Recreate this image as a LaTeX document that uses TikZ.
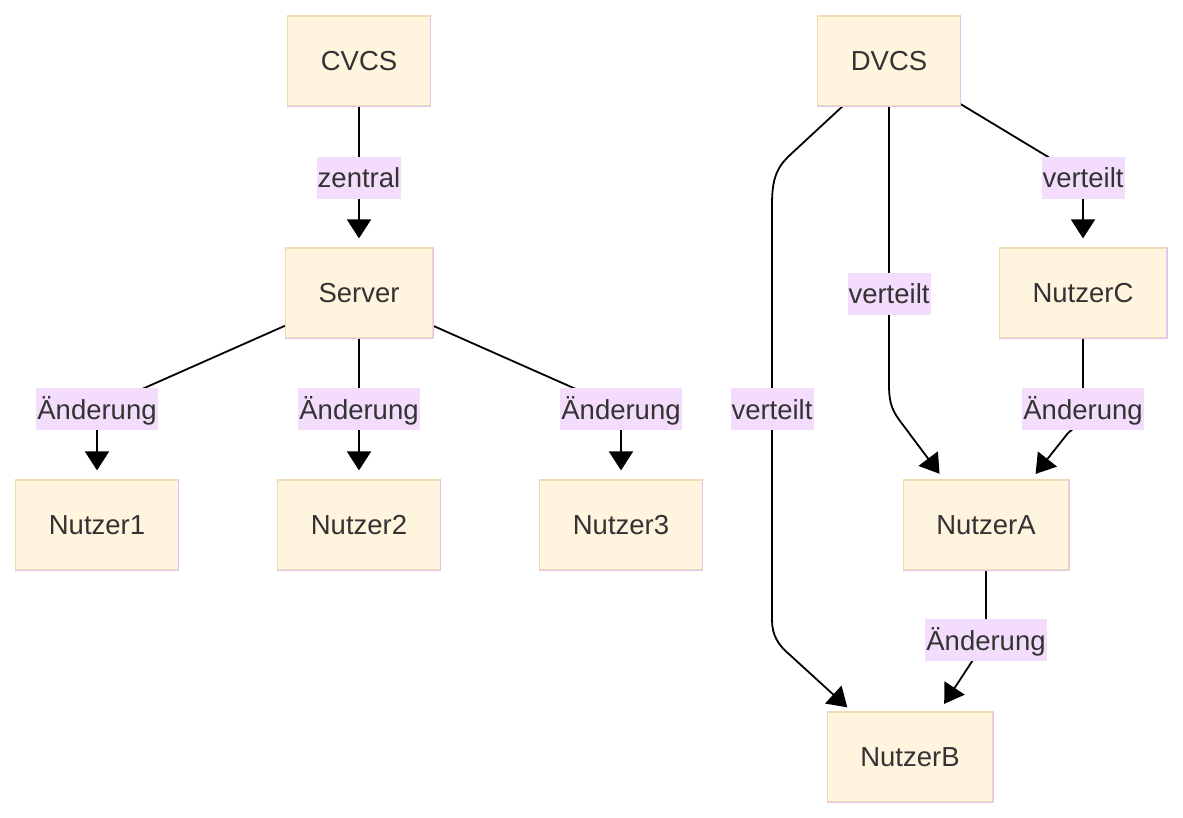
\documentclass[tikz,border=0pt]{standalone}
\usepackage{fontspec}
\setmainfont{Liberation Sans}
\usetikzlibrary{arrows.meta,calc}
\pgfdeclarelayer{back}
\pgfdeclarelayer{bg}
\pgfsetlayers{back,bg,main}
\definecolor{boxfill}{RGB}{255,244,221}
\definecolor{boxtan}{RGB}{238,220,180}
\definecolor{boxlav}{RGB}{226,196,240}
\definecolor{lblfill}{RGB}{243,220,252}
\definecolor{txt}{RGB}{51,51,51}
\begin{document}
\begin{tikzpicture}[x=1pt,y=-1pt,
  box/.style={draw=boxtan, fill=boxfill, line width=1.2pt, inner xsep=33pt, inner ysep=0pt,
    minimum height=90pt, text=txt, font=\fontsize{27.5}{33}\selectfont},
  lbl/.style={fill=lblfill, inner xsep=1pt, inner ysep=0pt, minimum height=42pt,
    text height=26pt, text depth=6pt, text=txt, font=\fontsize{27.5}{33}\selectfont},
  conn/.style={line width=1.8pt, black},
  arr/.style={-{Triangle[length=19pt,width=24pt]}, shorten >=9pt}]
\begin{pgfonlayer}{back}
\fill[white] (0,0) rectangle (1183,818);
\end{pgfonlayer}
\useasboundingbox (0,0) rectangle (1183,818);
% nodes
\node[box] (cvcs) at (359,61) {CVCS};
\node[box] (srv) at (359,293) {Server};
\node[box] (n1) at (97,525) {Nutzer1};
\node[box] (n2) at (359,525) {Nutzer2};
\node[box] (n3) at (621,525) {Nutzer3};
\node[box] (dv) at (889,61) {DVCS};
\node[box] (nC) at (1083,293) {NutzerC};
\node[box] (nA) at (986,525) {NutzerA};
\node[box] (nB) at (910,757) {NutzerB};
\foreach \n in {cvcs,srv,n1,n2,n3,dv,nC,nA,nB}
  \draw[boxlav,line width=1.2pt] (\n.north east) -- (\n.south east) -- (\n.south west);
% labels
\node[lbl] (lz) at (359,178) {zentral};
\node[lbl] (l1) at (97,409) {Änderung};
\node[lbl] (l2) at (359,409) {Änderung};
\node[lbl] (l3) at (621,409) {Änderung};
\node[lbl] (lC) at (1083,178) {verteilt};
\node[lbl] (lA) at (889,294) {verteilt};
\node[lbl] (lB) at (772,409) {verteilt};
\node[lbl] (lCA) at (1083,409) {Änderung};
\node[lbl] (lAB) at (986,640) {Änderung};
% edges
\begin{pgfonlayer}{bg}
\draw[conn,arr] (cvcs) -- (lz.center) -- (srv);
\draw[conn,arr] (srv) -- (l1.center) -- (n1);
\draw[conn,arr] (srv) -- (l2.center) -- (n2);
\draw[conn,arr] (srv) -- (l3.center) -- (n3);
\draw[conn,arr] (dv) -- (lC.center) -- (nC);
\draw[conn,arr,shorten >=7pt] (dv.south) -- (lA.center) -- (889,385)
  .. controls (889,405) and (893,412) .. (903,425) -- ($(nA.north west)+(41,0)$);
\draw[conn,arr,shorten >=7pt] (nC.south) -- (lCA.center) -- (1083,410)
  .. controls (1083,420) and (1078,425) .. (1068,433) -- ($(nA.north east)+(-38,0)$);
\draw[conn,arr,shorten >=6pt] ($(dv.south west)+(25,0)$) -- (790,155)
  .. controls (776,168) and (772,180) .. (772,205) -- (lB.center) -- (772,620)
  .. controls (772,635) and (778,645) .. (790,655) -- ($(nB.north west)+(25,0)$);
\draw[conn,arr,shorten >=9pt] (nA.south) -- (986,600) -- (lAB.center) -- ($(nB.north east)+(-54,0)$);
\end{pgfonlayer}
\end{tikzpicture}
\end{document}
